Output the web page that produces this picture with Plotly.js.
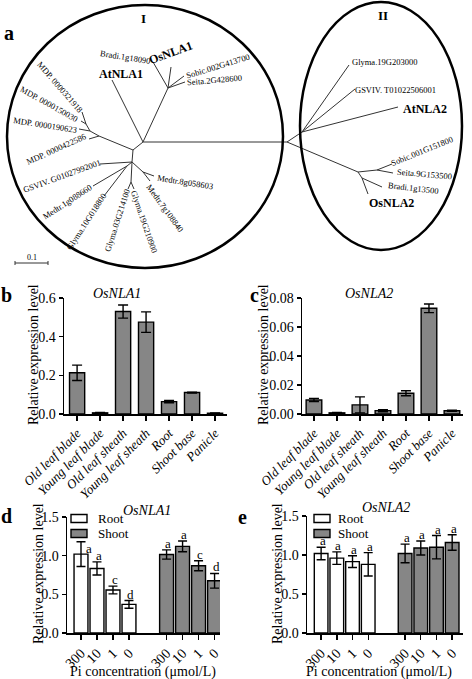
<!DOCTYPE html>
<html><head><meta charset="utf-8">
<script src="https://cdn.plot.ly/plotly-3.0.1.min.js"></script>
<style>html,body{margin:0;padding:0;background:#fff}#chart{width:472px;height:679px}</style>
</head><body><div id="chart"></div>
<script>
// ================= DATA =================
// panel b / c : tissue expression
const tissues = ['Old leaf blade','Young leaf blade','Old leaf sheath','Young leaf sheath','Root','Shoot base','Panicle'];
const nla1Tissue    = [0.213, 0.006, 0.530, 0.475, 0.064, 0.111, 0.004];
const nla1TissueErr = [0.040, 0.002, 0.034, 0.053, 0.006, 0.002, 0.001];
const nla2Tissue    = [0.0097, 0.0008, 0.0063, 0.0023, 0.0143, 0.0729, 0.0022];
const nla2TissueErr = [0.0011, 0.0002, 0.0055, 0.0007, 0.0017, 0.0030, 0.0004];

// panel d / e : Pi concentration
const piLevels = ['300','10','1','0'];
const nla1Root      = [1.02, 0.835, 0.556, 0.370];
const nla1RootErr   = [0.16, 0.085, 0.050, 0.050];
const nla1Shoot     = [1.015, 1.12, 0.870, 0.675];
const nla1ShootErr  = [0.060, 0.070, 0.065, 0.095];
const nla1RootLetters  = ['a','a','c','d'];
const nla1ShootLetters = ['a','a','c','d'];
const nla2Root      = [1.02, 0.96, 0.915, 0.88];
const nla2RootErr   = [0.08, 0.08, 0.075, 0.15];
const nla2Shoot     = [1.02, 1.09, 1.10, 1.16];
const nla2ShootErr  = [0.12, 0.09, 0.15, 0.10];
const nla2RootLetters  = ['a','a','a','a'];
const nla2ShootLetters = ['a','a','a','a'];

// panel a : tree nodes (drawing units), parent index (-1 = root)
const treeNodeX = [143,287,302,349,355,398,358,377,392,393,362,382,368,168,153,171,184,185,112,133, 99, 89, 90, 79, 86, 81, 82,132,100,127, 93,104,131,128,134,143,150,154];
const treeNodeY = [142,142,132, 65, 89,107,172,170,164,173,178,187,194, 88, 62, 67, 76, 82, 80,150,136,139,131,129,124,121,112,162,164,166,186,196,182,189,189,172,181,176];
const treeParent= [ -1,  0,  1,  2,  2,  2,  1,  6,  7,  7,  6, 10, 10,  0, 13, 13, 13, 13,  0,  0, 19, 20, 20, 22, 22, 24, 24, 19, 27, 27, 29, 29, 27, 32, 32, 27, 35, 35];
// leaf labels
const leafText = ['Bradi.1g18090','OsNLA1','AtNLA1','Sobic.002G413700','Seita.2G428600',
  'MDP. 0000321918','MDP. 0000150030','MDP. 0000190623','MDP. 0000422586','GSVIV. G01027992001',
  'Medtr.1g088660','Glyma.10G018800','Glyma.03G214100','Glyma.19G210900','Medtr.7g108840','Medtr.8g058603',
  'Glyma.19G203000','GSVIV. T01022506001','AtNLA2','Sobic.001G151800','Seita.9G153500','Bradi.1g13500','OsNLA2'];
const leafX     = [125,170,121,218,214, 60, 49, 45, 56, 62, 67, 86,117,144,165,185, 384,395,425,422,424,413,391];
const leafY     = [ 57, 53, 74, 66, 80, 87,104,125,149,176,202,222,221,221,208,182,  62, 90,109,151,174,188,203];
const leafAngle = [  9,-20,  0,-17, -5, 49, 29,  9,-24,-20,-33,-57,-72, 71, 54,  9,   0,  0,  0,-22,  5,  7,  0];
const leafBold  = [0,1,1,0,0, 0,0,0,0,0, 0,0,0,0,0,0, 0,0,1,0,0,0,1];
const cladeNames = ['I','II'];
const cladeX0 = [7, 300], cladeX1 = [283, 462], cladeY0 = [5, 2], cladeY1 = [268, 250];
const treeScaleValue = 0.1, treeUnitsPerBranch = 330;

// ================= HELPERS =================
const W = 472, H = 679;
const FONT = '"Liberation Serif", "Times New Roman", serif';
const px = x => x / W, py = y => 1 - y / H;
const GREY = '#868686';
const annotations = [], shapes = [];
function txt(text, x, y, o) {
  o = o || {};
  annotations.push(Object.assign({text, x: px(x), y: py(y), xref:'paper', yref:'paper', showarrow:false,
    font:{family:FONT, size:o.size||13, color:'#000'}, textangle:o.angle||0,
    xanchor:o.xanchor||'center', yanchor:o.yanchor||'middle'}, o.extra||{}));
}

// ================= TREE =================
const tx = [], ty = [];
treeParent.forEach((p, i) => { if (p >= 0) { tx.push(treeNodeX[p], treeNodeX[i], null); ty.push(treeNodeY[p], treeNodeY[i], null); } });
const traces = [];
traces.push({x:tx, y:ty, xaxis:'x5', yaxis:'y5', mode:'lines', line:{color:'#333', width:1}, hoverinfo:'skip', showlegend:false});
// scale bar
const sbx0 = 15, sby = 263, sbLen = treeScaleValue * treeUnitsPerBranch;
traces.push({x:[sbx0, sbx0+sbLen, null, sbx0, sbx0, null, sbx0+sbLen, sbx0+sbLen], y:[sby, sby, null, sby-2, sby+2, null, sby-2, sby+2],
  xaxis:'x5', yaxis:'y5', mode:'lines', line:{color:'#333', width:1}, hoverinfo:'skip', showlegend:false});
annotations.push({text:String(treeScaleValue), x:sbx0+sbLen/2, y:sby-6, xref:'x5', yref:'y5', showarrow:false, font:{family:FONT, size:8, color:'#000'}});
leafText.forEach((t, i) => {
  annotations.push({text: leafBold[i] ? '<b>'+t+'</b>' : t, x:leafX[i], y:leafY[i], xref:'x5', yref:'y5', showarrow:false,
    textangle:leafAngle[i], font:{family:FONT, size: leafBold[i] ? 12 : 8.5, color:'#000'}});
});
cladeNames.forEach((c, i) => {
  shapes.push({type:'circle', xref:'x5', yref:'y5', x0:cladeX0[i], x1:cladeX1[i], y0:cladeY0[i], y1:cladeY1[i], line:{color:'#000', width:2.5}});
  annotations.push({text:'<b>'+c+'</b>', x:(cladeX0[i]+cladeX1[i])/2 - (i?-2:2), y:cladeY0[i]+13, xref:'x5', yref:'y5', showarrow:false, font:{family:FONT, size:13, color:'#000'}});
});

// ================= BARS =================
function errY(arr, w) { return {type:'data', array:arr, visible:true, color:'#000', thickness:1.4, width:w}; }
traces.push({type:'bar', x:tissues, y:nla1Tissue, error_y:errY(nla1TissueErr,5), xaxis:'x', yaxis:'y', width:0.66,
  marker:{color:GREY, line:{color:'#000', width:1.4}}, showlegend:false, name:'OsNLA1'});
traces.push({type:'bar', x:tissues, y:nla2Tissue, error_y:errY(nla2TissueErr,5), xaxis:'x2', yaxis:'y2', width:0.68,
  marker:{color:GREY, line:{color:'#000', width:1.4}}, showlegend:false, name:'OsNLA2'});

const groupGap = 5.35;
const rootPos = piLevels.map((_, i) => i), shootPos = piLevels.map((_, i) => i + groupGap);
function piPanel(xa, ya, root, rootErr, shoot, shootErr, rl, sl, letterNudge) {
  traces.push({type:'bar', x:rootPos, y:root, error_y:errY(rootErr,4.5), xaxis:xa, yaxis:ya, width:0.87, name:'Root',
    marker:{color:'#fff', line:{color:'#000', width:1.4}}, showlegend:false});
  traces.push({type:'bar', x:shootPos, y:shoot, error_y:errY(shootErr,4.5), xaxis:xa, yaxis:ya, width:0.87, name:'Shoot',
    marker:{color:GREY, line:{color:'#000', width:1.4}}, showlegend:false});
  const put = (pos, v, e, l, k) => annotations.push({text:l, x:pos + 0.1 + (letterNudge[k]||[0,0])[0], y:v+e+(letterNudge[k]||[0,0])[1], xref:xa, yref:ya,
    showarrow:false, yanchor:'bottom', yshift:-3, font:{family:FONT, size:13, color:'#000'}});
  root.forEach((v, i) => put(rootPos[i], v, rootErr[i], rl[i], 'r'+i));
  shoot.forEach((v, i) => put(shootPos[i], v, shootErr[i], sl[i], 's'+i));
}
piPanel('x3','y3', nla1Root, nla1RootErr, nla1Shoot, nla1ShootErr, nla1RootLetters, nla1ShootLetters, {r0:[0.4,-0.17]});
piPanel('x4','y4', nla2Root, nla2RootErr, nla2Shoot, nla2ShootErr, nla2RootLetters, nla2ShootLetters, {});

// ================= AXES =================
function xAx(d0, d1, anchor, o) {
  return Object.assign({domain:[px(d0), px(d1)], anchor, showline:true, linecolor:'#000', linewidth:1.5, ticks:'outside', ticklen:5,
    tickwidth:1.4, tickcolor:'#000', tickangle:-45, showgrid:false, zeroline:false, fixedrange:true,
    tickfont:{family:FONT, size:14, color:'#000'}}, o);
}
function yAx(top, bot, anchor, o) {
  return Object.assign({domain:[py(bot), py(top)], anchor, showline:true, linecolor:'#000', linewidth:1.5, ticks:'outside', ticklen:4,
    tickwidth:1.4, tickcolor:'#000', showgrid:false, zeroline:false, fixedrange:true,
    tickfont:{family:FONT, size:14, color:'#000'}}, o);
}
const layout = {
  width:W, height:H, margin:{l:0, r:0, t:0, b:0}, paper_bgcolor:'#fff', plot_bgcolor:'rgba(0,0,0,0)', showlegend:false, barmode:'overlay',
  font:{family:FONT},
  xaxis: xAx(64, 227, 'y', {type:'category', range:[-0.57, 6.52], tickfont:{family:FONT, size:13, color:'#000', style:'italic'}}),
  yaxis: yAx(298, 414, 'x', {range:[0, 0.6], dtick:0.2, tickformat:'.1f'}),
  xaxis2: xAx(302, 463, 'y2', {type:'category', range:[-0.52, 6.48], tickfont:{family:FONT, size:13, color:'#000', style:'italic'}}),
  yaxis2: yAx(298, 414, 'x2', {range:[0, 0.08], dtick:0.02, tickformat:'.2f'}),
  xaxis3: xAx(67, 220, 'y3', {range:[-0.875, 8.69], tickvals:rootPos.concat(shootPos), ticktext:piLevels.concat(piLevels)}),
  yaxis3: yAx(517, 633, 'x3', {range:[0, 1.5], dtick:0.5, tickformat:'.1f'}),
  xaxis4: xAx(307, 463, 'y4', {range:[-0.9, 9.04], tickvals:rootPos.concat(shootPos), ticktext:piLevels.concat(piLevels)}),
  yaxis4: yAx(516, 633, 'x4', {range:[0, 1.5], dtick:0.5, tickformat:'.1f'}),
  xaxis5: {domain:[0,1], anchor:'y5', range:[0, W], visible:false, fixedrange:true},
  yaxis5: {domain:[py(300), 1], anchor:'x5', range:[300, 0], visible:false, fixedrange:true},
  annotations, shapes
};

// panel letters
txt('<b>a</b>', 9, 33, {size:20});
txt('<b>b</b>', 6, 295, {size:20});
txt('<b>c</b>', 254, 295, {size:20});
txt('<b>d</b>', 6, 516, {size:20});
txt('<b>e</b>', 243, 517, {size:20});
// panel titles
txt('<i>OsNLA1</i>', 117, 293, {size:14});
txt('<i>OsNLA2</i>', 369, 293, {size:14});
txt('<i>OsNLA1</i>', 147, 510, {size:14});
txt('<i>OsNLA2</i>', 386, 507, {size:14});
// axis titles
const yTitle = 'Relative expression level';
txt(yTitle, 33, 355, {angle:-90, size:14});
txt(yTitle, 263, 355, {angle:-90, size:14});
txt(yTitle, 38, 574, {angle:-90, size:14});
txt(yTitle, 277, 574, {angle:-90, size:14});
const xTitle = 'Pi concentration (μmol/L)';
txt(xTitle, 143, 672, {size:14});
txt(xTitle, 379, 672, {size:14});
// legends (Root / Shoot)
[[71, 97], [314, 337]].forEach(([bx, tx0]) => {
  [['Root', '#fff', 514.5], ['Shoot', GREY, 529.5]].forEach(([name, col, y0]) => {
    shapes.push({type:'rect', xref:'paper', yref:'paper', x0:px(bx), x1:px(bx+16), y0:py(y0), y1:py(y0+8), fillcolor:col, line:{color:'#000', width:1.4}});
    txt(name, tx0, y0+4, {xanchor:'left', size:13, extra:{borderpad:0}});
  });
});

Plotly.newPlot('chart', traces, layout, {displayModeBar:false, staticPlot:true});
</script></body></html>
